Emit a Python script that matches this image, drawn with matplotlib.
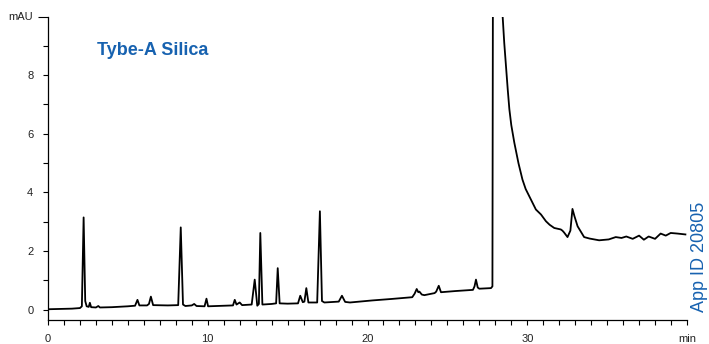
import numpy as np
import matplotlib
matplotlib.use("Agg")
import matplotlib.pyplot as plt

plt.rcParams["font.family"] = ["Liberation Sans", "DejaVu Sans"]

# chromatogram: time (min), signal (mAU)
time_min = [
    0.0, 0.8, 1.5, 2.0, 2.12, 2.23, 2.33, 2.42, 2.55, 2.62, 2.7, 3.0, 3.15, 3.25,
    4.0, 5.0, 5.45, 5.6, 5.72, 6.2, 6.32, 6.44, 6.58, 7.5, 8.15, 8.31, 8.45, 8.6,
    9.0, 9.15, 9.3, 9.8, 9.92, 10.02, 11.0, 11.58, 11.69, 11.8, 12.0, 12.15,
    12.75, 12.94, 13.1, 13.2, 13.29, 13.42, 14.0, 14.28, 14.38, 14.5, 15.0,
    15.65, 15.79, 15.95, 16.05, 16.17, 16.3, 16.85, 17.02, 17.15, 17.3, 18.2,
    18.4, 18.6, 18.9, 20.3, 21.5, 22.8, 22.95, 23.08, 23.18, 23.25, 23.4, 23.56,
    24.2, 24.3, 24.46, 24.6, 25.5, 26.6, 26.7, 26.79, 26.9, 27.0, 27.73, 27.82,
    28.0, 28.46, 28.56, 28.67, 28.78, 28.88, 29.0, 29.19, 29.45, 29.7, 29.9,
    30.13, 30.54, 30.86, 31.17, 31.4, 31.69,
    32.1, 32.2, 32.3, 32.52, 32.7, 32.83, 32.95, 33.15, 33.56, 33.9, 34.5,
    35.1, 35.54, 35.9, 36.2, 36.6, 37.0, 37.3, 37.6, 38.0, 38.35, 38.67, 38.98,
    39.4, 39.9,
]
signal_mau = [
    0.02, 0.03, 0.04, 0.06, 0.12, 3.15, 0.3, 0.12, 0.1, 0.24, 0.09, 0.08, 0.13, 0.08,
    0.09, 0.12, 0.14, 0.34, 0.15, 0.15, 0.2, 0.45, 0.16, 0.15, 0.16, 2.81, 0.18, 0.13,
    0.15, 0.2, 0.13, 0.12, 0.38, 0.12, 0.14, 0.15, 0.34, 0.18, 0.25, 0.16,
    0.18, 1.03, 0.14, 0.2, 2.62, 0.18, 0.2, 0.22, 1.42, 0.22, 0.21,
    0.22, 0.48, 0.26, 0.28, 0.74, 0.25, 0.25, 3.36, 0.3, 0.25, 0.28,
    0.48, 0.27, 0.25, 0.32, 0.37, 0.43, 0.55, 0.71, 0.6, 0.62, 0.52, 0.5,
    0.57, 0.62, 0.82, 0.6, 0.64, 0.68, 0.8, 1.03, 0.76, 0.72, 0.74, 0.8,
    60.0, 10.0, 9.1, 8.3, 7.5, 6.84, 6.3, 5.7, 5.0, 4.44, 4.12,
    3.87, 3.42, 3.25, 3.02, 2.9, 2.79,
    2.74, 2.7, 2.64, 2.48, 2.7, 3.44, 3.2, 2.85, 2.48, 2.43, 2.37,
    2.4, 2.48, 2.45, 2.5, 2.42, 2.53, 2.39, 2.5, 2.42, 2.6, 2.53, 2.62,
    2.6, 2.57,
]

y_ticks = list(range(11))
y_labels = ["0", "", "2", "", "4", "", "6", "", "8", "", "mAU"]
x_ticks = list(range(41))
x_labels = ["0" if t == 0 else str(t) if t % 10 == 0 and t < 40 else "min" if t == 40 else ""
            for t in x_ticks]

blue = "#1762b0"

fig = plt.figure(figsize=(7.09, 3.44), dpi=100)
ax = fig.add_axes([48 / 709, 24.5 / 344, 639 / 709, 303 / 344])

ax.plot(time_min, signal_mau, color="black", linewidth=1.3)

ax.set_xlim(0, 40)
ax.set_ylim(-0.33, 10)
ax.spines["top"].set_visible(False)
ax.spines["right"].set_visible(False)
ax.spines["left"].set_linewidth(0.9)
ax.spines["bottom"].set_linewidth(0.9)

ax.set_yticks(y_ticks)
ax.set_yticklabels(y_labels)
ax.set_xticks(x_ticks)
ax.set_xticklabels(x_labels)
ax.tick_params(axis="y", direction="out", length=3.6, width=0.8, pad=7,
               labelsize=8, labelcolor="#222222")
ax.tick_params(axis="x", direction="out", length=3.6, width=0.8, pad=6.5,
               labelsize=8, labelcolor="#222222")
ax.yaxis.get_major_ticks()[-1].tick1line.set_markersize(7.5)

fig.text(97 / 709, (344 - 55) / 344, "Tybe-A Silica", color=blue,
         fontsize=13, fontweight="bold", ha="left", va="baseline")
fig.text(708 / 709, (344 - 312) / 344, "App ID 20805", color=blue,
         fontsize=13, rotation=90, ha="right", va="bottom")

fig.savefig("out.png", dpi=100)
